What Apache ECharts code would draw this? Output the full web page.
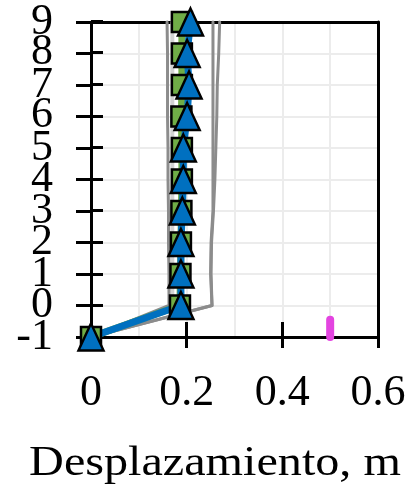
<!DOCTYPE html>
<html>
<head>
<meta charset="utf-8">
<script src="https://cdn.jsdelivr.net/npm/echarts@6/dist/echarts.min.js"></script>
<style>
  html, body { margin: 0; padding: 0; background: #fff; }
  #chart { width: 411px; height: 494px; }
</style>
</head>
<body>
<div id="chart"></div>
<script>
// Story levels (vertical axis) and lateral displacement per level, in metres
const levels = [-1, 0, 1, 2, 3, 4, 5, 6, 7, 8, 9];

// Individual record envelopes (grey)
const recordA = [0, 0.253, 0.250, 0.251, 0.255, 0.255, 0.255, 0.255, 0.255, 0.255, 0.255];
const recordB = [0, 0.253, 0.251, 0.252, 0.256, 0.259, 0.261, 0.263, 0.264, 0.267, 0.269];
const recordC = [0, 0.163, 0.163, 0.162, 0.162, 0.161, 0.161, 0.160, 0.160, 0.160, 0.159];
const recordD = [0, 0.170, 0.170, 0.170, 0.170, 0.170, 0.170, 0.170, 0.170, 0.170, 0.170];

// Mean profiles
const meanSquares   = [0, 0.186, 0.187, 0.188, 0.189, 0.190, 0.190, 0.189, 0.190, 0.190, 0.190];
const meanTriangles = [0, 0.188, 0.188, 0.188, 0.191, 0.193, 0.193, 0.201, 0.205, 0.201, 0.208];

// Limit marker
const limitX = [0.5, 0.5];
const limitY = [-1, -0.45];

const xTicks = [0, 0.2, 0.4, 0.6];

const pair = (xs, ys) => xs.map((x, i) => [x, ys[i]]);

const FONT = 'Liberation Serif';
const gridBox = { left: 91, right: 33, top: 21, bottom: 157 };
const black = { color: '#000', width: 3 };

function greyLine(name, xs, color, width) {
  return {
    name, type: 'line', data: pair(xs, levels),
    showSymbol: false, symbol: 'none', clip: false,
    lineStyle: { color, width, cap: 'round', join: 'round' },
    silent: true
  };
}

// Frame-only axis (top / right border)
function frameAxis(gridIndex, position, min, max) {
  return {
    type: 'value', gridIndex, position, min, max,
    axisLine: { show: true, onZero: false, lineStyle: black },
    axisTick: { show: false }, splitLine: { show: false }, axisLabel: { show: false }
  };
}

// The level labels are tall relative to their spacing, so odd and even
// levels are written by two coincident axes to keep every one visible.
function levelLabels(keepOdd) {
  return {
    margin: 38, fontFamily: FONT, fontSize: 44, color: '#000',
    showMinLabel: true, showMaxLabel: true, hideOverlap: false,
    formatter: v => (Math.abs(Math.round(v)) % 2 === 1) === keepOdd ? String(Math.round(v)) : ''
  };
}

const chart = echarts.init(document.getElementById('chart'), null, { renderer: 'canvas' });

chart.setOption({
  animation: false,
  backgroundColor: '#ffffff',
  grid: [
    Object.assign({ show: false }, gridBox),
    Object.assign({ show: false }, gridBox)
  ],
  xAxis: [
    {
      type: 'value', gridIndex: 0, position: 'bottom', min: 0, max: 0.6, interval: 0.2,
      axisLine: { show: true, onZero: false, lineStyle: black },
      axisTick: { show: true, inside: false, length: 11, lineStyle: black },
      minorTick: { show: false, splitNumber: 2 },
      splitLine: { show: true, lineStyle: { color: '#ececec', width: 2 } },
      minorSplitLine: { show: true, lineStyle: { color: '#ececec', width: 2 } },
      axisLabel: {
        margin: 34, fontFamily: FONT, fontSize: 44, color: '#000',
        showMinLabel: true, showMaxLabel: true, hideOverlap: false,
        formatter: v => String(xTicks.find(t => Math.abs(t - v) < 1e-9) ?? v)
      }
    },
    {
      type: 'value', gridIndex: 1, position: 'bottom', min: 0, max: 0.6, interval: 0.2,
      axisLine: { show: false, onZero: false },
      axisTick: { show: true, inside: true, length: 15, lineStyle: black },
      splitLine: { show: false }, axisLabel: { show: false }
    },
    frameAxis(0, 'top', 0, 0.6)
  ],
  yAxis: [
    {
      type: 'value', gridIndex: 0, position: 'left', min: -1, max: 9, interval: 1,
      axisLine: { show: true, onZero: false, lineStyle: black },
      axisTick: { show: true, inside: false, length: 15, lineStyle: black },
      splitLine: { show: true, lineStyle: { color: '#ececec', width: 2 } },
      axisLabel: levelLabels(true)
    },
    {
      type: 'value', gridIndex: 1, position: 'left', min: -1, max: 9, interval: 1,
      axisLine: { show: false, onZero: false },
      axisTick: { show: true, inside: true, length: 12, lineStyle: black },
      splitLine: { show: false },
      axisLabel: levelLabels(false)
    },
    frameAxis(0, 'right', -1, 9)
  ],
  graphic: [{
    type: 'text', x: 215, y: 464, scaleX: 1.12, originX: 0,
    style: {
      text: 'Desplazamiento, m', font: '43px "Liberation Serif"', fill: '#000',
      align: 'center', verticalAlign: 'middle'
    }
  }],
  series: [
    greyLine('Registro D', recordD, '#d2d2d2', 4),
    greyLine('Registro C', recordC, '#8c8c8c', 3),
    greyLine('Registro A', recordA, '#8c8c8c', 3),
    greyLine('Registro B', recordB, '#8c8c8c', 3),
    {
      name: 'Media 1', type: 'line', xAxisIndex: 0, yAxisIndex: 0,
      data: pair(meanSquares, levels), clip: false,
      symbol: 'rect', symbolSize: 20,
      lineStyle: { color: '#70ad47', width: 7 },
      itemStyle: { color: '#70ad47', borderColor: '#000', borderWidth: 2.5 }
    },
    {
      name: 'Media 2', type: 'line', xAxisIndex: 0, yAxisIndex: 0,
      data: pair(meanTriangles, levels), clip: false,
      symbol: 'triangle', symbolSize: [25, 27],
      lineStyle: { color: '#0070c0', width: 7 },
      itemStyle: { color: '#0070c0', borderColor: '#000', borderWidth: 2.5 }
    },
    {
      name: 'Límite', type: 'line', xAxisIndex: 0, yAxisIndex: 0,
      data: pair(limitX, limitY), clip: true,
      showSymbol: false, symbol: 'none',
      lineStyle: { color: '#e344e0', width: 8, cap: 'round' }
    }
  ]
});
</script>
</body>
</html>
